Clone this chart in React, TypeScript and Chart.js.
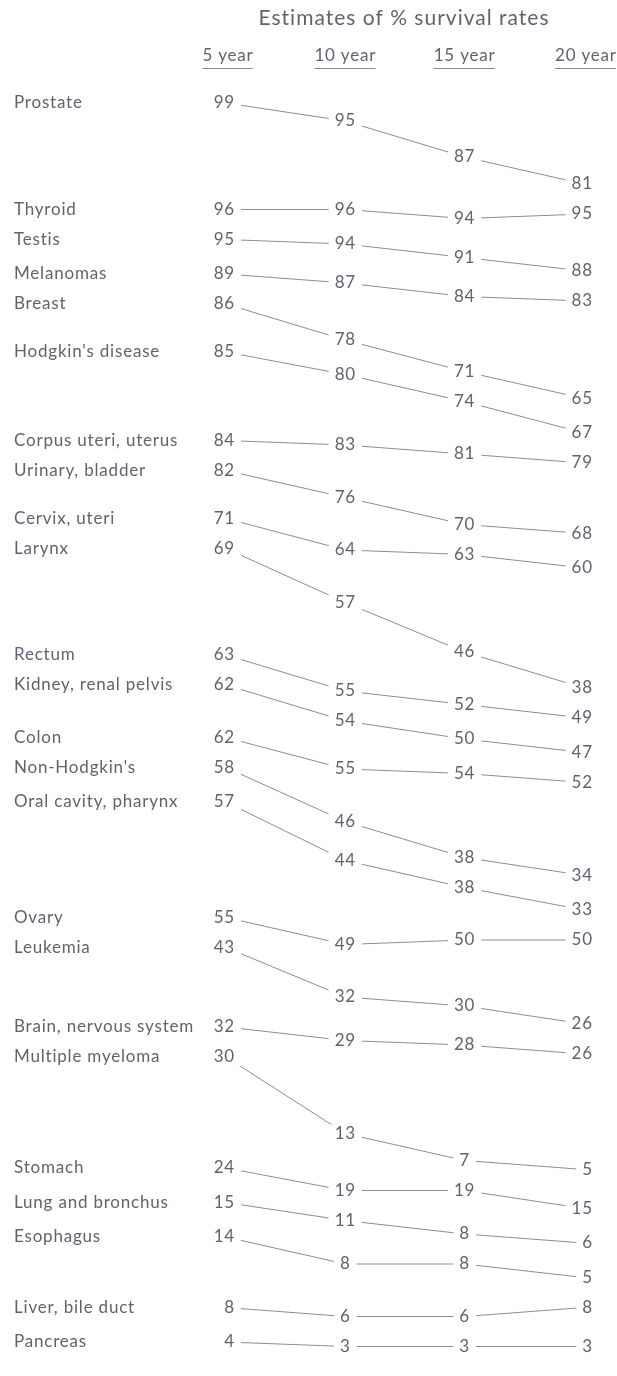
import React, { useEffect, useRef } from 'react';
import { Chart, registerables } from 'chart.js';

Chart.register(...registerables);

const categories = [
  'Prostate', 'Thyroid', 'Testis', 'Melanomas', 'Breast', "Hodgkin's disease",
  'Corpus uteri, uterus', 'Urinary, bladder', 'Cervix, uteri', 'Larynx', 'Rectum',
  'Kidney, renal pelvis', 'Colon', "Non-Hodgkin's", 'Oral cavity, pharynx', 'Ovary',
  'Leukemia', 'Brain, nervous system', 'Multiple myeloma', 'Stomach',
  'Lung and bronchus', 'Esophagus', 'Liver, bile duct', 'Pancreas',
];
const fiveYear = [99, 96, 95, 89, 86, 85, 84, 82, 71, 69, 63, 62, 62, 58, 57, 55, 43, 32, 30, 24, 15, 14, 8, 4];
const tenYear = [95, 96, 94, 87, 78, 80, 83, 76, 64, 57, 55, 54, 55, 46, 44, 49, 32, 29, 13, 19, 11, 8, 6, 3];
const fifteenYear = [87, 94, 91, 84, 71, 74, 81, 70, 63, 46, 52, 50, 54, 38, 38, 50, 30, 28, 7, 19, 8, 8, 6, 3];
const twentyYear = [81, 95, 88, 83, 65, 67, 79, 68, 60, 38, 49, 47, 52, 34, 33, 50, 26, 26, 5, 15, 6, 5, 8, 3];
const columnLabels = ['5 year', '10 year', '15 year', '20 year'];
const chartTitle = 'Estimates of % survival rates';

// layout parameters
const PX_PER_POINT = 4.5;
const ROW_GAP = 30;
const TEXT_COLOR = '#64616f';
const LINE_COLOR = '#8d8d8d';
const FONT = 'Lato';

function layoutRows(series: number[][]): number[][] {
  const rows: number[][] = [];
  let prev: number[] | null = null;
  for (let r = 0; r < categories.length; r++) {
    const vals = series.map((s) => s[r]);
    const drops = vals.map((v) => (vals[0] - v) * PX_PER_POINT);
    let base = 0;
    if (prev) {
      const p = prev;
      base = Math.max(...drops.map((d, c) => p[c] + ROW_GAP - d));
    }
    const ys = drops.map((d) => base + d);
    rows.push(ys);
    prev = ys;
  }
  return rows;
}

export default function App() {
  const ref = useRef<HTMLCanvasElement | null>(null);

  useEffect(() => {
    document.body.style.margin = '0';
    document.body.style.background = '#ffffff';
    const canvas = ref.current;
    if (!canvas) return;
    const series = [fiveYear, tenYear, fifteenYear, twentyYear];
    const layout = layoutRows(series);

    const datasets = categories.map((name, r) => ({
      label: name,
      data: series.map((_, c) => ({ x: c, y: layout[r][c] })),
      borderColor: LINE_COLOR,
      borderWidth: 1,
      pointRadius: 0,
      tension: 0,
      fill: false,
    }));

    const labelsPlugin = {
      id: 'slopeLabels',
      afterDatasetsDraw(chart: any) {
        const ctx = chart.ctx as any;
        const xs = chart.scales.x;
        const ys = chart.scales.y;
        ctx.save();
        // title
        ctx.fillStyle = TEXT_COLOR;
        ctx.textBaseline = 'middle';
        ctx.textAlign = 'left';
        ctx.font = `21px ${FONT}`;
        ctx.letterSpacing = '1px';
        const tw = ctx.measureText(chartTitle).width;
        ctx.fillText(chartTitle, 404 - tw / 2, 18);
        // column headers
        ctx.font = `17px ${FONT}`;
        ctx.letterSpacing = '0.8px';
        columnLabels.forEach((lab, c) => {
          let cx = xs.getPixelForValue(c);
          if (c === 0) cx += 2;
          if (c === 3) cx += 2;
          const w = ctx.measureText(lab).width;
          ctx.fillStyle = TEXT_COLOR;
          ctx.fillText(lab, cx - w / 2, 56);
          ctx.strokeStyle = '#8a8a8a';
          ctx.lineWidth = 1.2;
          ctx.beginPath();
          ctx.moveTo(cx - w / 2, 68.5);
          ctx.lineTo(cx + w / 2 - 0.8, 68.5);
          ctx.stroke();
        });
        // numbers and row labels
        categories.forEach((name, r) => {
          const y0 = ys.getPixelForValue(layout[r][0]);
          ctx.fillStyle = TEXT_COLOR;
          ctx.fillText(name, 14, y0);
          series.forEach((s, c) => {
            const txt = String(s[r]);
            const px = xs.getPixelForValue(c);
            const py = ys.getPixelForValue(layout[r][c]);
            const w = ctx.measureText(txt).width;
            let left: number;
            if (c === 0 || c === 3) {
              left = px + 9 - w;
            } else {
              left = px - w / 2;
            }
            ctx.fillStyle = '#ffffff';
            ctx.fillRect(left - 6, py - 9, w + 12, 18);
            ctx.fillStyle = TEXT_COLOR;
            ctx.fillText(txt, left, py);
          });
        });
        ctx.restore();
      },
    };

    const colStep = 119.3;
    const firstCol = 226;
    const chart = new Chart(canvas, {
      type: 'line',
      data: { datasets },
      options: {
        animation: false,
        responsive: false,
        maintainAspectRatio: false,
        layout: { padding: 0 },
        plugins: {
          legend: { display: false },
          tooltip: { enabled: false },
          title: { display: false },
        },
        scales: {
          x: {
            type: 'linear',
            display: false,
            min: -firstCol / colStep,
            max: (617 - firstCol) / colStep,
          },
          y: {
            type: 'linear',
            display: false,
            reverse: true,
            min: -103,
            max: 1376 - 103,
          },
        },
      },
      plugins: [labelsPlugin],
    });
    return () => chart.destroy();
  }, []);

  return (
    <div style={{ width: 617, height: 1376, background: '#ffffff' }}>
      <canvas ref={ref} width={617} height={1376} style={{ width: 617, height: 1376, display: 'block' }} />
    </div>
  );
}
